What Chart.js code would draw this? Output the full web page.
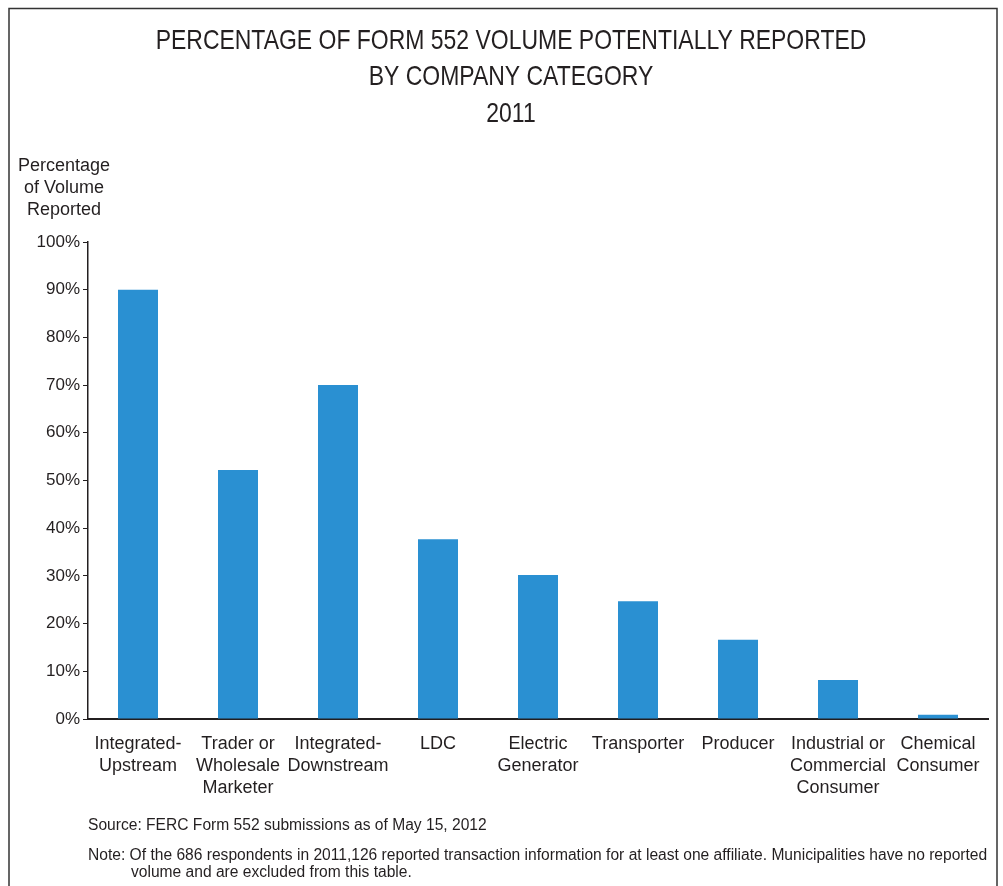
<!DOCTYPE html>
<html>
<head>
<meta charset="utf-8">
<script src="https://cdn.jsdelivr.net/npm/chart.js@4.4.1/dist/chart.umd.min.js"></script>
<style>
  html, body { margin: 0; padding: 0; background: #fff; }
  #wrap { width: 1003px; height: 886px; }
</style>
</head>
<body>
<div id="wrap"><canvas id="barChart" width="1003" height="886"></canvas></div>
<script>
const categories = [
  ['Integrated-', 'Upstream'],
  ['Trader or', 'Wholesale', 'Marketer'],
  ['Integrated-', 'Downstream'],
  'LDC',
  ['Electric', 'Generator'],
  'Transporter',
  'Producer',
  ['Industrial or', 'Commercial', 'Consumer'],
  ['Chemical', 'Consumer']
];
const pctReported = [90, 52.2, 70, 37.7, 30.2, 24.7, 16.6, 8.2, 0.9];
const yTicks = [0, 10, 20, 30, 40, 50, 60, 70, 80, 90, 100];

const titleLines = ['PERCENTAGE OF FORM 552 VOLUME POTENTIALLY REPORTED', 'BY COMPANY CATEGORY', '2011'];
const yTitleLines = ['Percentage', 'of Volume', 'Reported'];
const sourceText = 'Source: FERC Form 552 submissions as of May 15, 2012';
const noteLines = [
  'Note: Of the 686 respondents in 2011,126 reported transaction information for at least one affiliate. Municipalities have no reported',
  'volume and are excluded from this table.'
];

const textColor = '#231f20';
const sans = "'Liberation Sans', Arial, sans-serif";

// condensed text: squeeze horizontally around the anchor x
function narrowText(ctx, text, x, y, squeeze) {
  ctx.save();
  ctx.translate(x, y);
  ctx.scale(squeeze, 1);
  ctx.fillText(text, 0, 0);
  ctx.restore();
}

// frame, titles and footnotes drawn around the chart
const decorations = {
  id: 'decorations',
  afterDraw(chart) {
    const ctx = chart.ctx;
    ctx.save();
    ctx.strokeStyle = '#333';
    ctx.lineWidth = 1.5;
    ctx.beginPath();
    ctx.moveTo(9, 886);
    ctx.lineTo(9, 8.5);
    ctx.lineTo(997, 8.5);
    ctx.lineTo(997, 886);
    ctx.stroke();

    ctx.fillStyle = textColor;
    ctx.textAlign = 'center';
    ctx.textBaseline = 'middle';
    ctx.font = '28px ' + sans;
    narrowText(ctx, titleLines[0], 511, 41, 0.82);
    narrowText(ctx, titleLines[1], 511, 77, 0.82);
    narrowText(ctx, titleLines[2], 511, 114, 0.82);

    ctx.font = '18px ' + sans;
    yTitleLines.forEach((t, i) => ctx.fillText(t, 64, 166 + i * 22));

    ctx.textAlign = 'left';
    ctx.font = '15.6px ' + sans;
    ctx.fillText(sourceText, 88, 826);
    ctx.fillText(noteLines[0], 88, 856);
    ctx.fillText(noteLines[1], 131, 873);
    ctx.restore();
  }
};

const ctx = document.getElementById('barChart').getContext('2d');
new Chart(ctx, {
  type: 'bar',
  data: {
    labels: categories,
    datasets: [{
      label: 'Percentage of Volume Reported',
      data: pctReported,
      backgroundColor: '#2a90d2',
      barPercentage: 0.4,
      categoryPercentage: 1.0
    }]
  },
  options: {
    responsive: false,
    animation: false,
    layout: {
      padding: { left: 28, right: 15, top: 242, bottom: 67 }
    },
    scales: {
      x: {
        grid: { display: false },
        border: { color: '#231f20', width: 2 },
        ticks: {
          color: textColor,
          font: { family: sans, size: 18, lineHeight: 1.22 },
          maxRotation: 0,
          autoSkip: false,
          padding: 6
        },
        afterFit(scale) { scale.height = 100; }
      },
      y: {
        min: 0,
        max: 100,
        afterBuildTicks(scale) { scale.ticks = yTicks.map(v => ({ value: v })); },
        grid: {
          drawOnChartArea: false,
          tickLength: 5,
          color: '#231f20'
        },
        border: { color: '#231f20', width: 1.5 },
        ticks: {
          color: textColor,
          font: { family: sans, size: 17 },
          padding: 3,
          callback: v => v + '%'
        },
        afterFit(scale) { scale.width = 60; }
      }
    },
    plugins: {
      legend: { display: false },
      title: { display: false },
      tooltip: { enabled: false }
    }
  },
  plugins: [decorations]
});
</script>
</body>
</html>
